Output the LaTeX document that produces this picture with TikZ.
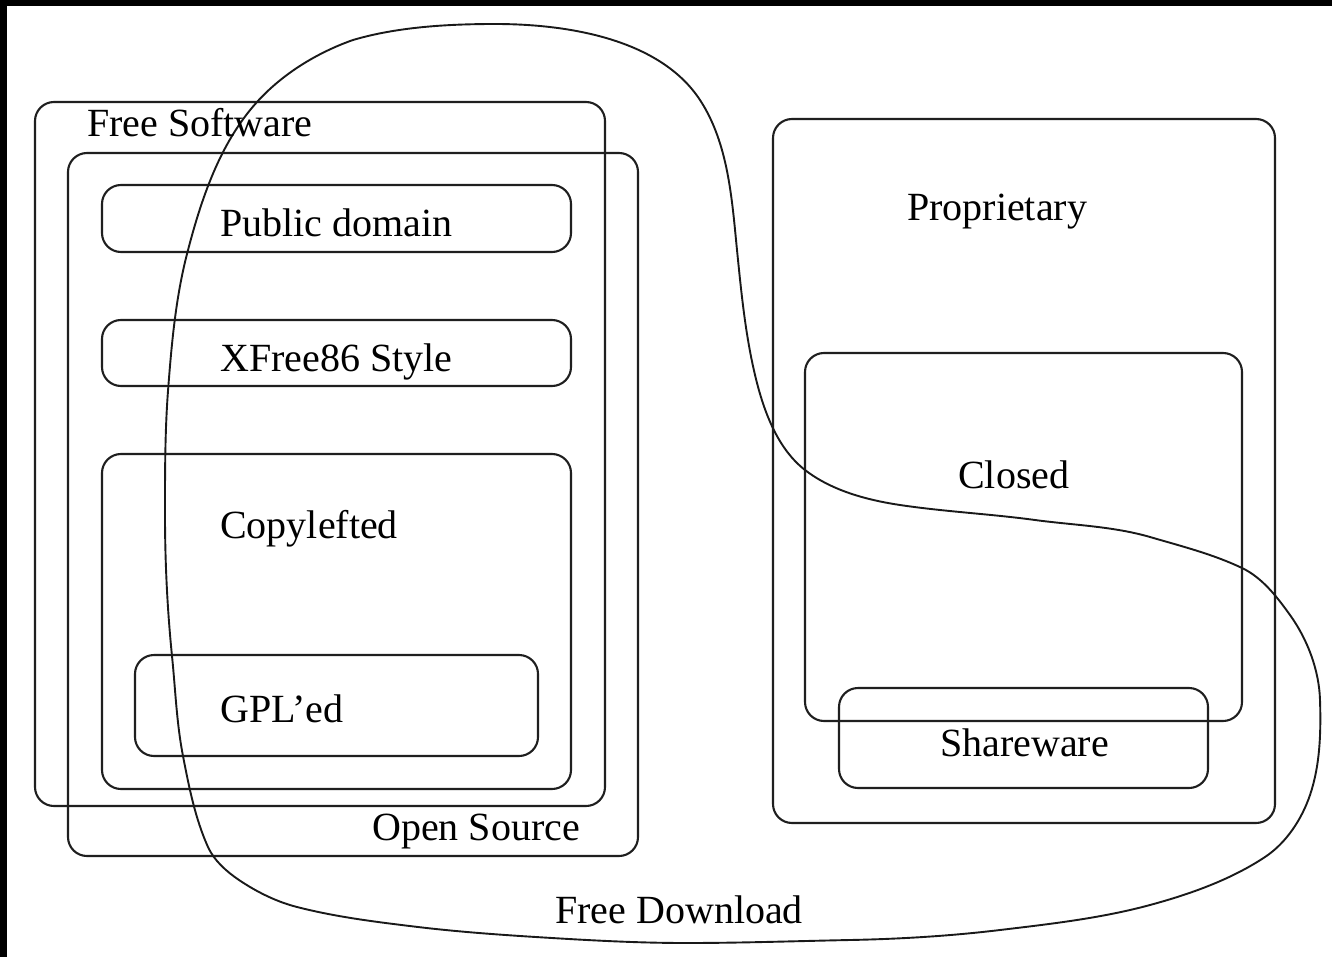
\documentclass[tikz,border=0pt]{standalone}
\usepackage{fontspec}
\setmainfont{Liberation Serif}
\begin{document}
\begin{tikzpicture}[x=1pt,y=-1pt,
  box/.style={draw=black!88,line width=2.1pt,rounded corners=19pt},
  lbl/.style={anchor=base west,inner sep=0pt,font=\fontsize{40}{48}\selectfont},
  loopline/.style={draw=black!90,line width=1.9pt,line join=round}]
\useasboundingbox (0,0) rectangle (1332,957);
\fill[white] (0,0) rectangle (1332,957);
\fill[black] (0,0) rectangle (1332,6);
\fill[black] (0,0) rectangle (7,957);
% Free / open source side
\draw[box] (35,102) rectangle (605,806);
\draw[box] (68,153) rectangle (638,856);
\draw[box] (102,185) rectangle (571,252);
\draw[box] (102,320) rectangle (571,386);
\draw[box] (102,454) rectangle (571,789);
\draw[box] (135,655) rectangle (538,756);
% Proprietary side
\draw[box] (773,119) rectangle (1275,823);
\draw[box] (805,353) rectangle (1242,721);
\draw[box] (839,688) rectangle (1208,788);
% Free download loop
\draw[loopline] (495,24)
 .. controls (568,24) and (660,39) .. (700,100)
 .. controls (728.3,143.3) and (731.9,198.8) .. (737,250)
 .. controls (741.5,294.6) and (745.8,339.5) .. (757,383)
 .. controls (765.3,415.1) and (778.9,449.8) .. (805,470)
 .. controls (831.6,490.6) and (866.7,500) .. (900,505)
 .. controls (944.8,511.7) and (990.1,513.9) .. (1035,520)
 .. controls (1073.4,525.2) and (1112.8,526.2) .. (1150,537)
 .. controls (1181.1,546.1) and (1212.8,554.1) .. (1242,568)
 .. controls (1262.2,577.6) and (1277,596.9) .. (1290,615)
 .. controls (1307.4,639.3) and (1319.1,670) .. (1320,700)
 .. controls (1321,731.8) and (1320.2,764.8) .. (1310,795)
 .. controls (1301.8,819.2) and (1286.2,843) .. (1265,857)
 .. controls (1230.6,879.8) and (1189.8,894.2) .. (1150,905)
 .. controls (1101.3,918.2) and (1050.3,924) .. (1000,930)
 .. controls (950.3,936) and (900.1,939) .. (850,940)
 .. controls (795.3,941.1) and (740.7,943) .. (686,943)
 .. controls (641.3,943) and (596.6,940.7) .. (552,938)
 .. controls (507.3,935.3) and (462.5,932.3) .. (418,927)
 .. controls (377.4,922.1) and (336.7,917.2) .. (297,907)
 .. controls (276.3,901.7) and (256.7,891.9) .. (239,880)
 .. controls (226.5,871.5) and (214.2,860.7) .. (208,847)
 .. controls (195.1,818.3) and (189,786.9) .. (183,756)
 .. controls (176.6,723.2) and (175.4,689.3) .. (172,656)
 .. controls (167.3,609.1) and (165,562.1) .. (165,515)
 .. controls (165,473.7) and (164.9,432.2) .. (168,391)
 .. controls (171.5,345) and (175.5,298.7) .. (187,254)
 .. controls (200.9,199.9) and (219.6,143.3) .. (257,102)
 .. controls (282.5,73.8) and (317.2,52.6) .. (353,40)
 .. controls (397,27) and (447.4,24) .. (495,24) -- cycle;
% Labels
\node[lbl] (fs) at (87,137) {Free Software};
\node[lbl] (pd) at (220,237) {Public domain};
\node[lbl] (xf) at (220,371) {XFree86 Style};
\node[lbl] (cl) at (220,538) {Copylefted};
\node[lbl] (gpl) at (220,722) {GPL’ed};
\node[lbl] (os) at (372,840) {Open Source};
\node[lbl] (fd) at (555,923) {Free Download};
\node[lbl] (pr) at (907,221) {Proprietary};
\node[lbl] (cs) at (958,488) {Closed};
\node[lbl] (sw) at (940,756) {Shareware};
\end{tikzpicture}
\end{document}
